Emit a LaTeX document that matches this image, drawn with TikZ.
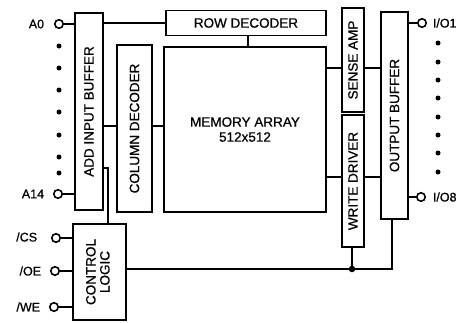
\documentclass[tikz,border=0pt]{standalone}
\usepackage{fontspec}
\setmainfont{Liberation Sans}[FakeBold=0.7]
\begin{document}
\begin{tikzpicture}[x=1pt,y=-1pt,line width=1.8pt,
  blk/.style={draw,rectangle,inner sep=0pt,font=\fontsize{13.5}{15}\selectfont,align=center},
  pin/.style={draw,circle,minimum size=8.5pt,inner sep=0pt,line width=1.6pt,fill=white},
  dotp/.style={fill,circle,minimum size=5pt,inner sep=0pt},
  lbl/.style={font=\fontsize{12.5}{14}\selectfont,inner sep=0pt},
  junc/.style={fill,circle,minimum size=6.5pt,inner sep=0pt}]
\useasboundingbox (0,0) rectangle (461,322);
% blocks
\node[blk,minimum width=28pt,minimum height=197pt] (inbuf) at (89,111.5) {\rotatebox{90}{ADD INPUT BUFFER}};
\node[blk,minimum width=35pt,minimum height=167pt] (coldec) at (134.5,128.5) {\rotatebox{90}{COLUMN DECODER}};
\node[blk,minimum width=160pt,minimum height=25pt] (rowdec) at (246,23) {ROW DECODER};
\node[blk,minimum width=162pt,minimum height=165pt] (mem) at (245,129.5) {MEMORY ARRAY\\512x512};
\node[blk,minimum width=22pt,minimum height=104pt] (sense) at (353,60) {\rotatebox{90}{SENSE AMP}};
\node[blk,minimum width=22pt,minimum height=132pt] (wd) at (353,181) {\rotatebox{90}{WRITE DRIVER}};
\node[blk,minimum width=27pt,minimum height=207pt] (outbuf) at (394.5,115.5) {\rotatebox{90}{OUTPUT BUFFER}};
\node[blk,minimum width=53pt,minimum height=96pt] (ctrl) at (99.5,272) {\rotatebox{90}{\begin{tabular}{@{}c@{}}CONTROL\\[-1pt]LOGIC\end{tabular}}};
% pins left
\node[pin] (a0) at (59,24) {};
\node[pin] (a14) at (58,194) {};
\node[pin] (cs) at (56,238) {};
\node[pin] (oe) at (55,271) {};
\node[pin] (we) at (54,307) {};
\node[lbl,anchor=east] (la0) at (45,24) {A0};
\node[lbl,anchor=east] (la14) at (45,194) {A14};
\node[lbl,anchor=east] (lcs) at (38,237) {/CS};
\node[lbl,anchor=east] (loe) at (42,271) {/OE};
\node[lbl,anchor=east] (lwe) at (41,307) {/WE};
% dots left
\foreach \i/\yy in {1/46,2/68,3/90,4/112,5/135,6/157,7/173}
  \node[dotp] (ld\i) at (59,\yy) {};
% pins right
\node[pin] (io1) at (422,23) {};
\node[pin] (io8) at (421,197) {};
\node[lbl,anchor=west] (lio1) at (432,23) {I/O1};
\node[lbl,anchor=west] (lio8) at (432,197) {I/O8};
\foreach \i/\yy in {1/43,2/62,3/80,4/98,5/117,6/135,7/153,8/172}
  \node[dotp] (rd\i) at (438,\yy) {};
% connections
\draw (a0) -- (inbuf.west |- a0);
\draw (a14) -- (inbuf.west |- a14);
\draw (cs) -- (ctrl.west |- cs);
\draw (oe) -- (ctrl.west |- oe);
\draw (we) -- (ctrl.west |- we);
\draw (inbuf.east |- rowdec.west) -- (rowdec.west);
\draw (inbuf.east |- 0,126) -- (coldec.west |- 0,126);
\draw (coldec.east |- 0,126) -- (mem.west |- 0,126);
\draw (rowdec.south -| 248,0) -- (mem.north -| 248,0);
\draw (mem.east |- 0,68) -- (sense.west |- 0,68);
\draw (sense.east |- 0,68) -- (outbuf.west |- 0,68);
\draw (mem.east |- 0,177) -- (wd.west |- 0,177);
\draw (wd.east |- 0,177) -- (outbuf.west |- 0,177);
\draw (outbuf.east |- io1) -- (io1);
\draw (outbuf.east |- io8) -- (io8);
\draw (inbuf.east |- 0,168) -| (ctrl.north -| 108,0);
\node[junc] (j) at (352,269) {};
\draw (wd.south -| j) -- (j.center);
\draw (outbuf.south -| 392,0) |- (j.center);
\draw (ctrl.east |- j) -- (j.center);
\end{tikzpicture}
\end{document}
